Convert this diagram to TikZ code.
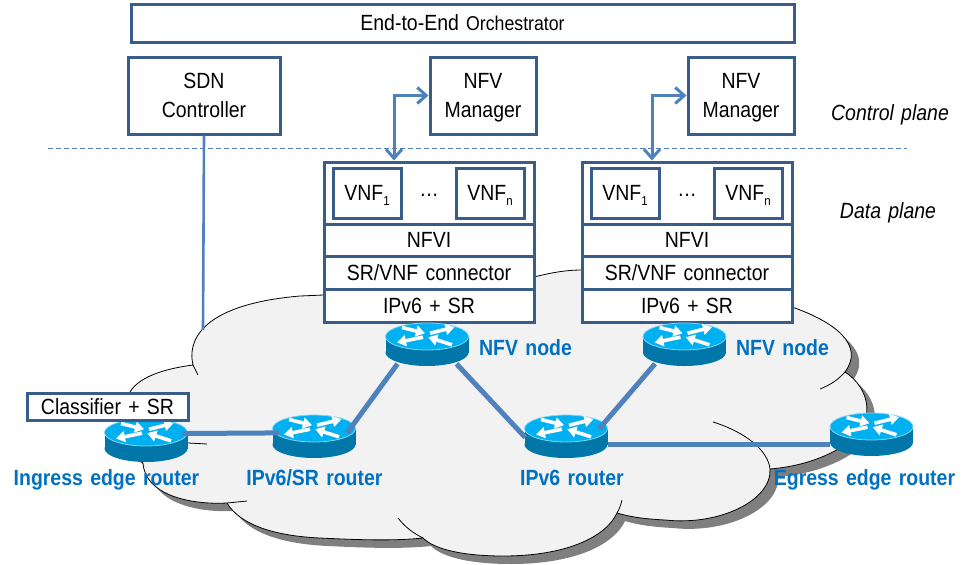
\documentclass[tikz,border=0pt]{standalone}
\usepackage{fontspec}
\setmainfont[FakeStretch=0.885, WordSpace=1.35]{Liberation Sans}
\usetikzlibrary{arrows.meta, shapes.geometric}
\definecolor{boxblue}{HTML}{385D8A}
\definecolor{linkblue}{HTML}{4F81BD}
\definecolor{labelblue}{HTML}{0070C0}
\definecolor{routertop}{HTML}{00B0F0}
\definecolor{routerrim}{HTML}{7FD6F5}
\definecolor{routerside}{HTML}{0077A8}
\definecolor{cloudfill}{HTML}{F2F2F2}
\definecolor{cloudshadow}{HTML}{7F7F7F}
\newcommand{\vnfidx}[1]{\smash{\raisebox{-5pt}{\fontsize{13}{13}\selectfont #1}}}
\newcommand{\cloudoutline}{(193,365) .. controls (188,345) and (195,305) .. (300,296)
 .. controls (400,292) and (480,285) .. (534,277) .. controls (550,273) and (565,270) .. (582,270)
 .. controls (680,265) and (740,285) .. (792,307) .. controls (835,322) and (865,345) .. (845,372)
 .. controls (870,388) and (880,425) .. (840,448) .. controls (820,460) and (795,467) .. (770,469)
 .. controls (772,500) and (720,526) .. (665,520) .. controls (645,519) and (630,517) .. (617,513)
 .. controls (607,535) and (570,556) .. (503,556) .. controls (465,556) and (435,550) .. (423,538)
 .. controls (395,541) and (360,540) .. (320,538) .. controls (275,536) and (240,525) .. (227,503)
 .. controls (190,505) and (145,495) .. (143,463) .. controls (120,450) and (115,410) .. (130,392)
 .. controls (140,375) and (170,368) .. (193,365) -- cycle}
\tikzset{
  box/.style = {draw = boxblue, line width = 3pt, fill = white, inner sep = 0pt, align = center,
    font = \fontsize{22}{29}\selectfont},
  planelabel/.style = {anchor = base, font = \fontsize{22}{26}\selectfont\itshape},
  routerlabel/.style = {anchor = base, text = labelblue, font = \fontsize{22}{26}\selectfont\bfseries},
  routerbase/.style = {ellipse, inner sep = 0pt, minimum width = 83pt, minimum height = 43pt},
  biglink/.style = {draw = linkblue, line width = 5pt},
  arrowlink/.style = {draw = linkblue, line width = 3pt, <->, >={Straight Barb[length = 9pt, width = 16pt, line width = 3pt]}},
  router/.pic = {
    \fill[routerside] (0,8) ellipse [x radius = 41.5pt, y radius = 13.5pt];
    \fill[routerside] (-41.5,-8) rectangle (41.5,8);
    \fill[routertop] (0,-8) ellipse [x radius = 41.5pt, y radius = 13.5pt];
    \draw[routerrim, line width = 0.8pt] (0,-8) ellipse [x radius = 41.5pt, y radius = 13.5pt];
    \foreach \tailx/\taily/\headx/\heady in {-4/-7.3/-30/-2, 3/-11.3/27.5/-17.3, -25/-17/-2/-11.3, 25/0.3/1.3/-7.3}
      \draw[white, line width = 3.6pt, -{Triangle[length = 9pt, width = 11pt]}] (\tailx,\taily) -- (\headx,\heady);
  }
}
\begin{document}
\begin{tikzpicture}[x = 1pt, y = -1pt]
\useasboundingbox (0,0) rectangle (970,565);
\fill[cloudshadow] [shift = {(8,8)}] \cloudoutline;
\filldraw[fill = cloudfill, draw = black, line width = 0.8pt] \cloudoutline;
\draw[line width = 0.8pt] (193,365) -- (198,375);
\draw[line width = 0.8pt] (845,372) .. controls (838,380) and (830,385) .. (820,389);
\draw[line width = 0.8pt] (713,422) .. controls (745,432) and (768,450) .. (770,469);
\draw[line width = 0.8pt] (617,513) .. controls (620,508) and (621,504) .. (622,500);
\draw[line width = 0.8pt] (398,518) .. controls (405,527) and (413,533) .. (423,538);
\draw[line width = 0.8pt] (227,503) -- (247,501);
\draw[line width = 0.8pt] (188,443) -- (207,444);

\coordinate (dashleft) at (48,148.5);
\coordinate (dashright) at (907,148.5);
\draw[linkblue, line width = 1pt, dash pattern = on 5pt off 3pt] (dashleft) -- (dashright);

\node[box, minimum width = 663pt, minimum height = 38pt] (orch) at (462.5,23) {End-to-End {\fontsize{20}{24}\selectfont Orchestrator}};
\node[box, minimum width = 152pt, minimum height = 77pt] (sdn) at (204,95.5) {SDN\\\smash{Controller}};
\node[box, minimum width = 106pt, minimum height = 77pt] (mgra) at (483,95.5) {NFV\\\smash{Manager}};
\node[box, minimum width = 106pt, minimum height = 77pt] (mgrb) at (741,95.5) {NFV\\\smash{Manager}};

\coordinate (sdnend) at (203,330);
\draw[linkblue, line width = 2.6pt] (sdn.south) -- (sdnend);

% first NFV stack
\node[box, minimum width = 210pt, minimum height = 62pt] (framea) at (429,193) {};
\node[box, minimum width = 68pt, minimum height = 50pt] (vnfaa) at (367,193) {VNF\vnfidx{1}};
\node[box, minimum width = 68pt, minimum height = 50pt] (vnfan) at (490,193) {VNF\vnfidx{n}};
\node[font = \fontsize{22}{26}\selectfont] (dotsa) at (429,195) {\ldots};
\node[box, minimum width = 210pt, minimum height = 32pt] (nfvia) at (429,240) {NFVI};
\node[box, minimum width = 210pt, minimum height = 33pt] (conna) at (429,272.5) {SR/VNF connector};
\node[box, minimum width = 210pt, minimum height = 33pt] (ipa) at (429,305.5) {IPv6 + SR};

% second NFV stack
\node[box, minimum width = 210pt, minimum height = 62pt] (frameb) at (687,193) {};
\node[box, minimum width = 68pt, minimum height = 50pt] (vnfba) at (625,193) {VNF\vnfidx{1}};
\node[box, minimum width = 68pt, minimum height = 50pt] (vnfbn) at (748,193) {VNF\vnfidx{n}};
\node[font = \fontsize{22}{26}\selectfont] (dotsb) at (687,195) {\ldots};
\node[box, minimum width = 210pt, minimum height = 32pt] (nfvib) at (687,240) {NFVI};
\node[box, minimum width = 210pt, minimum height = 33pt] (connb) at (687,272.5) {SR/VNF connector};
\node[box, minimum width = 210pt, minimum height = 33pt] (ipb) at (687,305.5) {IPv6 + SR};

\draw[arrowlink] (mgra.west) -| ([xshift = -35pt]framea.north);
\draw[arrowlink] (mgrb.west) -| ([xshift = -35pt]frameb.north);

\node[planelabel] (ctrlplane) at (890,120.5) {Control plane};
\node[planelabel] (dataplane) at (888,218) {Data plane};

\path (146,440.5) node[routerbase] (ringress) {} pic {router};
\path (314,436.5) node[routerbase] (rsr) {} pic {router};
\path (427,344.5) node[routerbase] (rnfva) {} pic {router};
\path (684.5,344.5) node[routerbase] (rnfvb) {} pic {router};
\path (566,436.5) node[routerbase] (rip) {} pic {router};
\path (871.5,434.5) node[routerbase] (regress) {} pic {router};

\node[box, minimum width = 161pt, minimum height = 27pt] (classifier) at (107.5,407) {Classifier + SR};

\draw[biglink] ([xshift = -3pt]ringress.10) -- ([xshift = 6pt]rsr.175);
\draw[biglink] ([xshift = -8pt]rsr.5) -- ([yshift = -4pt]rnfva.south west);
\draw[biglink] ([yshift = -4pt]rnfva.south east) -- ([xshift = 1pt, yshift = -1pt]rip.west);
\draw[biglink] ([xshift = -8pt, yshift = 4pt]rip.5) -- ([yshift = -4pt]rnfvb.south west);
\draw[biglink] ([yshift = -8pt]rip.east) -- ([yshift = -10pt]regress.west);

\node[routerlabel] (lingress) at (106.5,485) {Ingress edge router};
\node[routerlabel] (lsr) at (314.5,485) {IPv6/SR router};
\node[routerlabel] (lip) at (572,485) {IPv6 router};
\node[routerlabel] (legress) at (864.5,485) {Egress edge router};
\node[routerlabel] (lnfva) at (525.5,355) {NFV node};
\node[routerlabel] (lnfvb) at (782.5,355) {NFV node};
\end{tikzpicture}
\end{document}
